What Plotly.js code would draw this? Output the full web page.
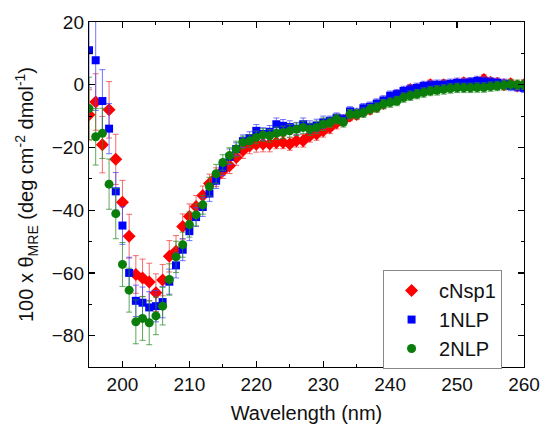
<!DOCTYPE html>
<html>
<head>
<meta charset="utf-8">
<script src="https://cdn.plot.ly/plotly-3.0.1.min.js"></script>
<style>html,body{margin:0;padding:0;background:#fff;}#chart{width:543px;height:429px;}</style>
</head>
<body>
<div id="chart"></div>
<script>
var wavelength = [195,196,197,198,199,200,201,202,203,204,205,206,207,208,209,210,211,212,213,214,215,216,217,218,219,220,221,222,223,224,225,226,227,228,229,230,231,232,233,234,235,236,237,238,239,240,241,242,243,244,245,246,247,248,249,250,251,252,253,254,255,256,257,258,259,260];

var cNsp1 = [-9.6,-5.5,-19.1,-8,-23.8,-37.5,-48.3,-60.5,-61.6,-62.9,-66.3,-62.3,-54.7,-53.1,-45.2,-42,-38.8,-35.3,-31.5,-29.5,-27.4,-25.8,-23.2,-21,-19.5,-19,-18.9,-18.9,-18.4,-18.4,-18.9,-17.9,-17.9,-16.3,-15.7,-14.7,-13.6,-12.1,-11.5,-10,-9.5,-8.5,-7.8,-7,-6,-4.5,-3.5,-2.5,-1.5,-1.5,-0.8,0,-0.5,0,-0.3,0.2,0.6,0.3,0.8,1.7,0.8,0.5,0,0.3,-0.4,0];
var cNsp1Err = [8,9,9,9,8,7,7,6,6,6,6,5,5,5,4,4,3.5,3,3,3,2.5,2.5,2.5,2.5,2.5,2.5,2.5,2.5,2,2,2,2,2,2,2,2,2,2,1.5,1.5,1.5,1.5,1.5,1.5,1.5,1.5,1.5,1.5,1.5,1.5,1.5,1.5,1.5,1.5,1.5,1.5,1.5,1.5,1.5,1.5,1.5,1.5,1.5,1.5,1.5,1.5];

var NLP1 = [11,7.8,-5.2,-14,-34,-44.9,-60,-68.9,-69.5,-71,-70.6,-69.3,-62.8,-57.6,-52.6,-46.7,-42.2,-39,-34.7,-30.6,-26.5,-23,-20.5,-18,-17,-14.7,-15.7,-15,-12.6,-13.1,-13.5,-14,-12.6,-13.5,-13,-12,-11.5,-10.5,-11,-8.5,-9,-7.5,-7,-6,-5,-3.5,-3,-2,-1.5,-1,-0.4,-0.2,0,0,0.3,0.6,0.5,0.8,1.2,1,0.8,0.6,0.3,-0.4,-0.6,-1];
var NLP1Err = [12,16,10,8,6,6,5,5,5,5,5,5,4,4,3.5,3,3,3,2.5,2.5,2.5,2.5,2,2,2,2,2,2,2,2,2,2,2,2,2,2,1.5,1.5,1.5,1.5,1.5,1.5,1.5,1.5,1.5,1.5,1.5,1.5,1.5,1.5,1.5,1.5,1.5,1.5,1.5,1.5,1.5,1.5,1.5,1.5,1.5,1.5,1.5,1.5,1.5,1.5];

var NLP2 = [-7.6,-16.6,-15.5,-31.7,-41.1,-57.3,-65.5,-75.6,-74.5,-75.9,-73.7,-70.6,-62.1,-54.9,-51,-44.6,-41.5,-38.3,-32.5,-28.4,-24.8,-22.6,-20.5,-18.4,-17.9,-16.8,-16,-16.3,-15.5,-15.2,-14.7,-14.2,-13.6,-14.2,-13.6,-12.6,-12.1,-11,-12,-9.4,-9.4,-8.9,-7.8,-7.3,-6.2,-5.7,-5.2,-4.1,-3.5,-3,-2.5,-2,-1.8,-1.5,-1.2,-1,-1,-1,-0.9,-0.9,-0.6,-0.4,-0.2,0.1,0,0];
var NLP2Err = [10,9,8,8,8,7,7,7,7,7,6,6,5,5,4,4,3.5,3,3,3,2.5,2.5,2.5,2,2,2,2,2,2,2,2,2,2,2,2,2,1.5,1.5,1.5,1.5,1.5,1.5,1.5,1.5,1.5,1.5,1.5,1.5,1.5,1.5,1.5,1.5,1.5,1.5,1.5,1.5,1.5,1.5,1.5,1.5,1.5,1.5,1.5,1.5,1.5,1.5];

var xTickVals = [200,210,220,230,240,250,260];
var yTickVals = [-80,-60,-40,-20,0,20];

function mk(name, y, err, color, errColor, symbol, size) {
  return {
    x: wavelength, y: y, name: name, type: 'scatter', mode: 'markers',
    marker: {color: color, symbol: symbol, size: size},
    error_y: {type: 'data', array: err, visible: true, color: errColor, thickness: 1, width: 3}
  };
}

var data = [
  mk('cNsp1', cNsp1, cNsp1Err, '#ff0000', 'rgba(240,60,60,0.75)', 'diamond', 10),
  mk('1NLP', NLP1, NLP1Err, '#0000ff', 'rgba(70,70,255,0.75)', 'square', 8),
  mk('2NLP', NLP2, NLP2Err, '#0a7d0a', 'rgba(40,140,40,0.75)', 'circle', 9)
];

var axisCommon = {
  showline: true, linecolor: '#000', linewidth: 1.2, mirror: 'allticks',
  ticks: 'inside', ticklen: 6, tickwidth: 1.2, tickcolor: '#000',
  showgrid: false, zeroline: false,
  tickfont: {family: 'Liberation Sans, Arial, sans-serif', size: 19, color: '#111'}
};

var layout = {
  width: 543, height: 429,
  margin: {l: 89, r: 19, t: 22, b: 62},
  paper_bgcolor: '#fff', plot_bgcolor: '#fff',
  showlegend: true,
  xaxis: Object.assign({}, axisCommon, {
    range: [195, 260], tickmode: 'array', tickvals: xTickVals,
    minor: {dtick: 5, tick0: 195, ticks: 'inside', ticklen: 3, tickcolor: '#000', tickwidth: 1},
    title: {text: 'Wavelength (nm)', font: {family: 'Liberation Sans, Arial, sans-serif', size: 20, color: '#111'}, standoff: 12}
  }),
  yaxis: Object.assign({}, axisCommon, {
    range: [-90, 20], tickmode: 'array', tickvals: yTickVals,
    minor: {dtick: 10, tick0: 0, ticks: 'inside', ticklen: 3, tickcolor: '#000', tickwidth: 1},
    title: {text: '100 x θ<sub>MRE</sub> (deg cm<sup>-2</sup> dmol<sup>-1</sup>)', font: {family: 'Liberation Sans, Arial, sans-serif', size: 20, color: '#111'}, standoff: 12}
  }),
  legend: {
    x: 0.676, y: 0.281, xanchor: 'left', yanchor: 'top',
    bordercolor: '#888', borderwidth: 1, bgcolor: '#fff',
    font: {family: 'Liberation Sans, Arial, sans-serif', size: 20, color: '#111'},
    tracegroupgap: 0, itemwidth: 45
  }
};

Plotly.newPlot('chart', data, layout, {displayModeBar: false, staticPlot: true});
</script>
</body>
</html>
